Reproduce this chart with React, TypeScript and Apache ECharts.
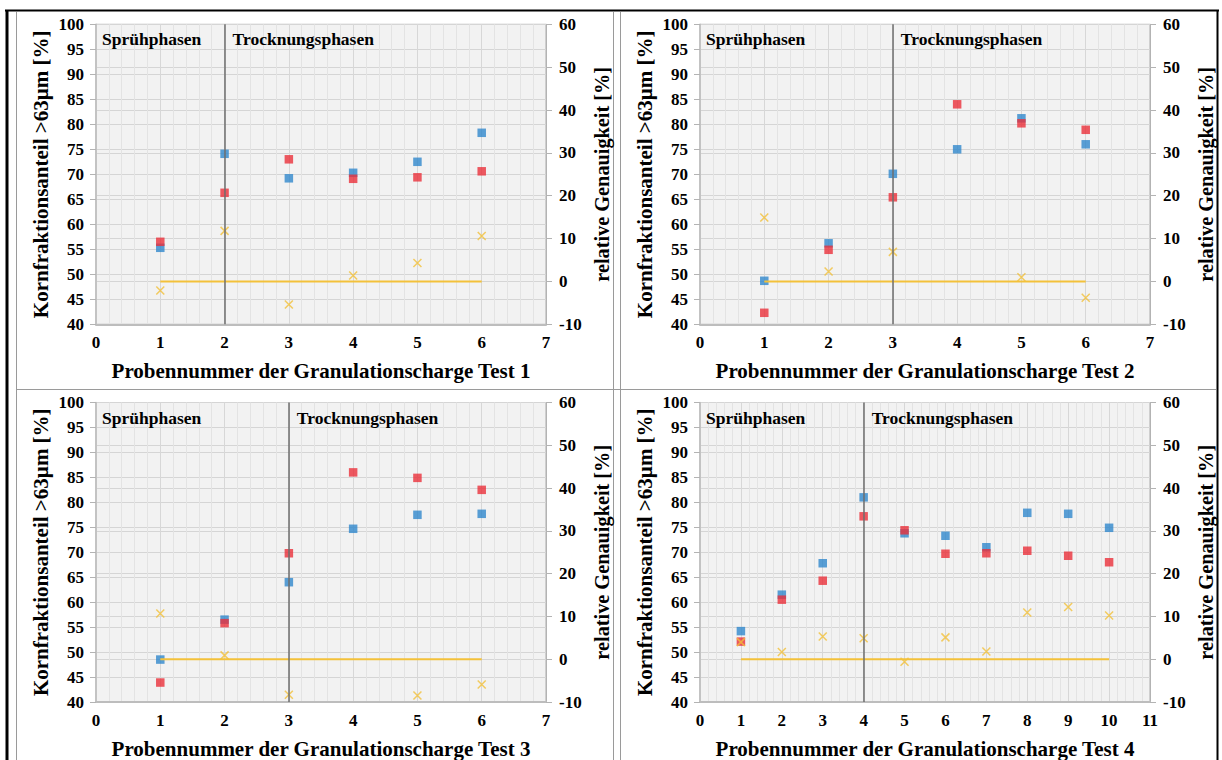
import React, { useEffect, useRef } from "react";
import * as echarts from "echarts";

const FONT = '"Liberation Serif", "Times New Roman", serif';

// Panel data (x = sample number, blue / red = Kornfraktionsanteil >63µm, rel = relative Genauigkeit)
const x1 = [1, 2, 3, 4, 5, 6];
const blue1 = [55.3, 74.1, 69.2, 70.3, 72.5, 78.3];
const red1 = [56.5, 66.3, 73.0, 69.1, 69.4, 70.6];
const rel1 = [-2.1, 11.8, -5.4, 1.4, 4.3, 10.6];

const x2 = [1, 2, 3, 4, 5, 6];
const blue2 = [48.7, 56.2, 70.1, 75.0, 81.2, 76.0];
const red2 = [42.3, 54.9, 65.4, 84.0, 80.2, 78.9];
const rel2 = [14.9, 2.3, 6.9, -10.7, 1.0, -3.8];

const x3 = [1, 2, 3, 4, 5, 6];
const blue3 = [48.5, 56.5, 64.0, 74.7, 77.5, 77.7];
const red3 = [43.9, 55.8, 69.8, 86.0, 84.9, 82.5];
const rel3 = [10.7, 0.9, -8.3, -13.1, -8.5, -5.9];

const x4 = [1, 2, 3, 4, 5, 6, 7, 8, 9, 10];
const blue4 = [54.2, 61.5, 67.8, 81.0, 73.8, 73.3, 71.0, 77.9, 77.7, 74.9];
const red4 = [52.1, 60.5, 64.3, 77.2, 74.4, 69.7, 69.8, 70.3, 69.3, 68.0];
const rel4 = [4.0, 1.7, 5.3, 4.9, -0.6, 5.1, 1.8, 10.9, 12.2, 10.2];

const phaseSplit = [2, 3, 3, 4];
const xMaxes = [7, 7, 7, 11];
const xTitles = [
  "Probennummer der Granulationscharge Test 1",
  "Probennummer der Granulationscharge Test 2",
  "Probennummer der Granulationscharge Test 3",
  "Probennummer der Granulationscharge Test 4",
];
const leftTitle = "Kornfraktionsanteil >63µm [%]";
const rightTitle = "relative Genauigkeit [%]";
const sprayLabel = "Sprühphasen";
const dryLabel = "Trocknungsphasen";

const BLUE = "#2f87cc";
const RED = "#ea303a";
const YELLOW = "#f3c13a";

const GRIDS = [
  { left: 96, top: 24.3 },
  { left: 700, top: 24.3 },
  { left: 96, top: 402.5 },
  { left: 700, top: 402.5 },
];

const panels = [
  { x: x1, blue: blue1, red: red1, rel: rel1 },
  { x: x2, blue: blue2, red: red2, rel: rel2 },
  { x: x3, blue: blue3, red: red3, rel: rel3 },
  { x: x4, blue: blue4, red: red4, rel: rel4 },
];

const tickLabel = { fontFamily: FONT, fontWeight: "bold" as const, fontSize: 17, color: "#000" };
const titleText = { fontFamily: FONT, fontWeight: "bold" as const, fontSize: 21, color: "#000" };
const rightTitleText = { fontFamily: FONT, fontWeight: "bold" as const, fontSize: 20.3, color: "#000" };
const phaseText = { fontFamily: FONT, fontWeight: "bold" as const, fontSize: 17.5, color: "#000" };

function buildOption() {
  const grid: any[] = [];
  const xAxis: any[] = [];
  const yAxis: any[] = [];
  const series: any[] = [];

  panels.forEach((p, i) => {
    grid.push({
      left: GRIDS[i].left,
      top: GRIDS[i].top,
      width: 450,
      height: 300,
      show: true,
      backgroundColor: "#f2f2f2",
      borderColor: "#adadad",
      borderWidth: 1,
    });
    xAxis.push({
      gridIndex: i,
      type: "value",
      min: 0,
      max: xMaxes[i],
      interval: 1,
      name: xTitles[i],
      nameLocation: "middle",
      nameGap: 36,
      nameTextStyle: titleText,
      axisLabel: { ...tickLabel, margin: 10 },
      axisTick: { show: false },
      axisLine: { show: true, onZero: false, lineStyle: { color: "#bdbdbd", width: 2 } },
      splitLine: { show: true, lineStyle: { color: "#d7d7d7", width: 1 } },
      minorTick: { show: false, splitNumber: 5 },
      minorSplitLine: { show: true, lineStyle: { color: "#e3e3e3", width: 1 } },
    });
    yAxis.push({
      gridIndex: i,
      type: "value",
      position: "left",
      min: 40,
      max: 100,
      interval: 5,
      name: leftTitle,
      nameLocation: "middle",
      nameGap: 45,
      nameRotate: 90,
      nameTextStyle: titleText,
      axisLabel: { ...tickLabel, margin: 12 },
      axisTick: { show: true, length: 6, lineStyle: { color: "#b3b3b3" } },
      axisLine: { show: true, onZero: false, lineStyle: { color: "#bdbdbd", width: 1.5 } },
      splitLine: { show: true, lineStyle: { color: "#d5d5d5", width: 1 } },
    });
    yAxis.push({
      gridIndex: i,
      type: "value",
      position: "right",
      min: -10,
      max: 60,
      interval: 10,
      name: rightTitle,
      nameLocation: "middle",
      nameGap: 46,
      nameRotate: 90,
      nameTextStyle: rightTitleText,
      axisLabel: { ...tickLabel, margin: 13 },
      axisTick: { show: true, length: 6, lineStyle: { color: "#b3b3b3" } },
      axisLine: { show: true, onZero: false, lineStyle: { color: "#b3b3b3", width: 1 } },
      splitLine: { show: true, lineStyle: { color: "#d5d5d5", width: 1 } },
    });

    const last = p.x.length - 1;
    series.push({
      type: "line",
      xAxisIndex: i,
      yAxisIndex: 2 * i + 1,
      data: [
        [p.x[0], 0],
        [p.x[last], 0],
      ],
      showSymbol: false,
      symbol: "none",
      lineStyle: { color: YELLOW, width: 2 },
      silent: true,
      markLine: {
        silent: true,
        symbol: ["none", "none"],
        label: { show: false },
        lineStyle: { color: "#6e6e6e", width: 1.5, type: "solid" },
        data: [{ xAxis: phaseSplit[i] }],
      },
      markPoint: {
        silent: true,
        symbol: "rect",
        symbolSize: 0,
        data: [
          {
            coord: [0, 60],
            label: { show: true, formatter: sprayLabel, position: [6, 6], ...phaseText },
          },
          {
            coord: [phaseSplit[i], 60],
            label: { show: true, formatter: dryLabel, position: [8, 6], ...phaseText },
          },
        ],
      },
    });
    series.push({
      type: "scatter",
      xAxisIndex: i,
      yAxisIndex: 2 * i,
      symbol: "rect",
      symbolSize: 8.5,
      itemStyle: { color: BLUE },
      data: p.x.map((v, k) => [v, p.blue[k]]),
    });
    series.push({
      type: "scatter",
      xAxisIndex: i,
      yAxisIndex: 2 * i,
      symbol: "rect",
      symbolSize: 8.5,
      itemStyle: { color: RED },
      data: p.x.map((v, k) => [v, p.red[k]]),
    });
    series.push({
      type: "scatter",
      xAxisIndex: i,
      yAxisIndex: 2 * i + 1,
      symbol: "path://M0,0L10,10M10,0L0,10",
      symbolSize: 8,
      clip: true,
      itemStyle: { color: "none", borderColor: YELLOW, borderWidth: 1.5 },
      data: p.x.map((v, k) => [v, p.rel[k]]),
    });
  });

  const grey = "#9a9a9a";
  const graphic = [
    { type: "line", shape: { x1: 5, y1: 10.5, x2: 1219, y2: 10.5 }, style: { stroke: "#000", lineWidth: 2 } },
    { type: "line", shape: { x1: 7, y1: 10, x2: 7, y2: 760 }, style: { stroke: "#000", lineWidth: 3 } },
    { type: "line", shape: { x1: 1217.5, y1: 10, x2: 1217.5, y2: 760 }, style: { stroke: "#000", lineWidth: 2 } },
    { type: "line", shape: { x1: 16.5, y1: 12, x2: 16.5, y2: 760 }, style: { stroke: grey, lineWidth: 1 } },
    { type: "line", shape: { x1: 613.5, y1: 12, x2: 613.5, y2: 760 }, style: { stroke: grey, lineWidth: 1 } },
    { type: "line", shape: { x1: 620.5, y1: 12, x2: 620.5, y2: 760 }, style: { stroke: grey, lineWidth: 1 } },
    { type: "line", shape: { x1: 16, y1: 389.5, x2: 1216, y2: 389.5 }, style: { stroke: grey, lineWidth: 1 } },
  ];

  return {
    animation: false,
    backgroundColor: "#ffffff",
    grid,
    xAxis,
    yAxis,
    series,
    graphic,
  };
}

export default function App() {
  const ref = useRef<HTMLDivElement>(null);
  useEffect(() => {
    if (!ref.current) return;
    const chart = echarts.init(ref.current, null, { renderer: "svg" });
    chart.setOption(buildOption() as any);
    return () => chart.dispose();
  }, []);
  return (
    <div
      ref={ref}
      style={{ position: "absolute", left: 0, top: 0, width: 1222, height: 760, background: "#fff" }}
    />
  );
}
